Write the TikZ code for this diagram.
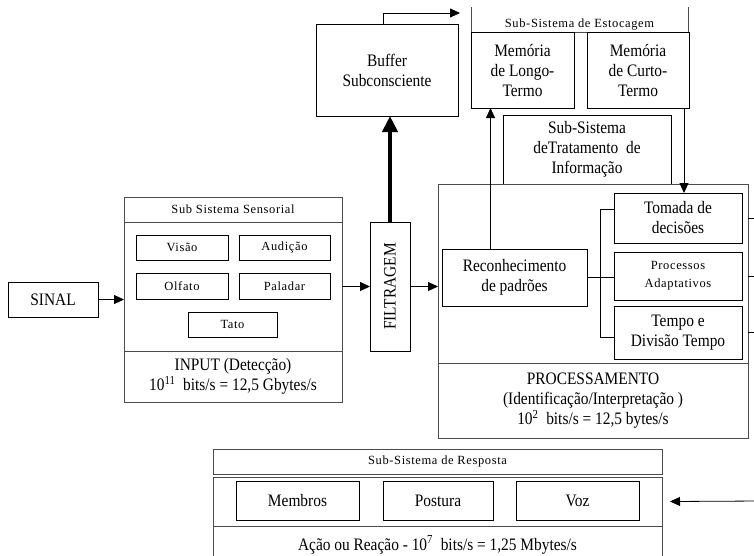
\documentclass[tikz,border=0pt]{standalone}
\usepackage{fontspec}
\usepackage{graphicx}
\setmainfont{Liberation Serif}[FakeStretch=0.88]
\newfontfamily\rotulo{Liberation Serif}[LetterSpace=5]
\usetikzlibrary{arrows.meta,positioning}
\newcommand{\grande}{\fontsize{17.5}{20}\selectfont}
\newcommand{\pequeno}{\rotulo\fontsize{12.5}{18}\selectfont}
\tikzset{caixa/.style={draw=black, line width=0.8pt, align=center, inner sep=0pt, outer sep=0pt, font=\grande}}
\tikzset{moldura/.style={caixa, draw=black!70}}
\tikzset{titulo/.style={font=\pequeno}}
\tikzset{seta/.style={-{Triangle[length=10pt,width=9pt]}, line width=0.8pt}}
\tikzset{setagrossa/.style={-{Triangle[length=16pt,width=15pt]}, line width=4pt}}

\begin{document}
\begin{tikzpicture}[x=1pt, y=-1pt]
	\useasboundingbox (0,0) rectangle (754,555);
	\clip (0,0) rectangle (754,555);
	
	% entrada
	\node[caixa, minimum width=90pt, minimum height=35pt] (sinal) at (53,299.5) {SINAL};
	\node[moldura, minimum width=218pt, minimum height=129pt] (sens) at (233,286.5) {};
	\node[moldura, titulo, minimum width=218pt, minimum height=25pt, above=0pt of sens] (sens-tit) {Sub Sistema Sensorial};
	\node[moldura, minimum width=218pt, minimum height=51pt, below=0pt of sens] (sens-inp) {INPUT (Detecção)\\10\textsuperscript{11}~ bits/s = 12,5 Gbytes/s};
	\node[caixa, titulo, minimum width=92pt, minimum height=25pt] (visao) at (182,247.5) {Visão};
	\node[caixa, titulo, minimum width=91pt, minimum height=25pt] (audicao) at (284.5,247.5) {Audição};
	\node[caixa, titulo, minimum width=92pt, minimum height=26pt] (olfato) at (182,286) {Olfato};
	\node[caixa, titulo, minimum width=91pt, minimum height=26pt] (paladar) at (284.5,286) {Paladar};
	\node[caixa, titulo, minimum width=89pt, minimum height=25pt] (tato) at (232.5,324.5) {Tato};
	
	\node[caixa, minimum width=40pt, minimum height=129pt] (filtro) at (390,286.5) {\rotatebox{90}{FILTRAGEM}};
	\node[caixa, minimum width=142pt, minimum height=92pt] (buffer) at (387,70) {Buffer\\Subconsciente};
	
	% estocagem
	\node[minimum width=217pt, minimum height=25pt, inner sep=0pt, outer sep=0pt] (esto) at (579.5,19.5) {};
	\node[titulo, anchor=base] (esto-txt) at (579.5,27) {Sub-Sistema de Estocagem};
	\draw[line width=0.8pt, black!70] (esto.north west) -- (esto.south west) -- (esto.south east) -- (esto.north east);
	\node[caixa, minimum width=103pt, minimum height=76pt] (longo) at (522.5,70) {Memória\\de Longo-\\Termo};
	\node[caixa, minimum width=102pt, minimum height=76pt] (curto) at (638,70) {Memória\\de Curto-\\Termo};
	\node[caixa, minimum width=168pt, minimum height=69pt] (trat) at (587,149.5) {Sub-Sistema\\deTratamento~ de\\Informação};
	
	% processamento
	\node[moldura, minimum width=310pt, minimum height=179pt] (proc) at (593,273.5) {};
	\node[moldura, minimum width=310pt, minimum height=75pt, below=0pt of proc] (proc-saida) {PROCESSAMENTO\\(Identificação/Interpretação )\\10\textsuperscript{2}~ bits/s = 12,5 bytes/s};
	\node[caixa, minimum width=145pt, minimum height=57pt] (recon) at (514.5,277.5) {Reconhecimento\\de padrões};
	\node[caixa, minimum width=128pt, minimum height=50pt] (tomada) at (678,218) {Tomada de\\decisões};
	\node[caixa, titulo, minimum width=128pt, minimum height=48pt] (procad) at (678,276) {Processos\\Adaptativos};
	\node[caixa, minimum width=128pt, minimum height=53pt] (tempo) at (678,332.5) {Tempo e\\Divisão Tempo};
	
	% resposta
	\node[moldura, minimum width=449pt, minimum height=49pt] (resp) at (437.5,501.5) {};
	\node[moldura, titulo, minimum width=449pt, minimum height=25pt, above=3pt of resp] (resp-tit) {Sub-Sistema de Resposta};
	\node[moldura, minimum width=449pt, minimum height=38pt, below=0pt of resp] (resp-saida) {Ação ou Reação - 10\textsuperscript{7}~ bits/s = 1,25 Mbytes/s};
	\node[caixa, minimum width=123pt, minimum height=39pt] (membros) at (297.5,500.5) {Membros};
	\node[caixa, minimum width=110pt, minimum height=39pt] (postura) at (438,500.5) {Postura};
	\node[caixa, minimum width=123pt, minimum height=39pt] (voz) at (577.5,500.5) {Voz};
	
	\coordinate (c-esto) at (460,13);
	\coordinate (c-resp) at (760,501);
	
	\draw[seta] (sinal.east) -- (sinal.east -| sens.west);
	\draw[seta] (sens.east) -- (filtro.west);
	\draw[seta] (filtro.east) -- (filtro.east -| proc.west);
	\draw[setagrossa] (filtro.north) -- (filtro.north |- buffer.south);
	\draw[seta] ([xshift=-4pt]buffer.north) |- (c-esto);
	\draw[seta] ([xshift=-24pt]recon.north) -- ([xshift=-24pt]recon.north |- longo.south);
	\draw[seta] ([xshift=46pt]curto.south) -- ([xshift=46pt]curto.south |- tomada.north);
	\draw[line width=0.8pt] (recon.east) -- (recon.east -| procad.west);
	\draw[line width=0.8pt] ([yshift=9pt]tomada.west) -| ([xshift=-14pt]procad.west) |- ([yshift=-4.5pt]tempo.west);
	\draw[line width=0.8pt] (proc.east |- tomada.east) -- ++(12,0);
	\draw[line width=0.8pt] (proc.east |- procad.east) -- ++(12,0);
	\draw[line width=0.8pt] (proc.east |- tempo.east) -- ++(12,0);
	\draw[seta] (c-resp) -- ([xshift=8pt]resp.east);
	
\end{tikzpicture}
\end{document}
